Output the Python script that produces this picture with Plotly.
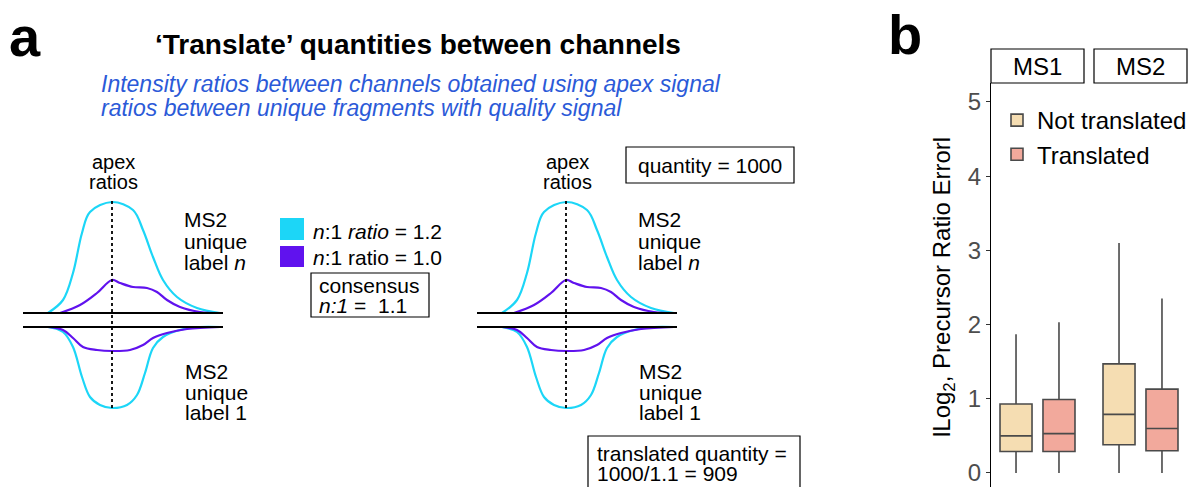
import plotly.graph_objects as go

FONT = "Liberation Sans, Arial, sans-serif"

# --- panel a: peak profiles (px from apex, px above/below baseline)
top_cyan_dx = [-64, -49, -39, -30, -22, 0, 21, 31, 41, 51, 65, 85, 108]
top_cyan_h = [0, 13, 40, 80, 101, 111, 103, 83, 56, 33, 16, 5, 0]
top_purple_dx = [-52, -32, -15, 0, 8, 21, 35, 45, 55, 68, 88, 108]
top_purple_h = [0, 8, 20, 33, 30, 26, 25, 21, 13, 6, 1, 0]
bot_cyan_dx = [-64, -49, -39, -30, -22, -12, 0, 15, 25, 33, 41, 51, 68, 88, 108]
bot_cyan_h = [0, 5, 20, 50, 70, 78, 81, 78, 68, 46, 21, 10, 3, 0, 0]
bot_purple_dx = [-64, -49, -39, -29, -15, 0, 18, 31, 41, 55, 75, 108]
bot_purple_h = [0, 3, 11, 20, 23, 24, 23, 18, 11, 6, 2, 0]

# --- panel b: box plot summaries
facets = ["MS1", "MS2"]
nt_q1 = [0.29, 0.38]
nt_med = [0.50, 0.79]
nt_q3 = [0.93, 1.47]
nt_lo = [0.0, 0.0]
nt_hi = [1.87, 3.10]
tr_q1 = [0.29, 0.30]
tr_med = [0.53, 0.60]
tr_q3 = [0.99, 1.13]
tr_lo = [0.0, 0.0]
tr_hi = [2.03, 2.35]
y_ticks = [0, 1, 2, 3, 4, 5]

CYAN = "#1CD6F7"
PURPLE = "#6012EE"
BLUE_TXT = "#2B5AD8"
NT_COL = "#F5DDB2"
TR_COL = "#F2A99C"

# page body keeps an 8px margin, so the figure is drawn 8px smaller and positions are given in window pixels
OFF = 8
W, H = 1204 - OFF, 487 - OFF


def px(x):
    return (x - OFF) / W


def py(y):
    return 1 - (y - OFF) / H


fig = go.Figure()


def peak(cx, base, dx, h, color, down=False):
    xs = [cx + d for d in dx]
    ys = [base + v if down else base - v for v in h]
    fig.add_trace(go.Scatter(x=xs, y=ys, mode="lines", line=dict(color=color, width=2.2, shape="spline", smoothing=1.0),
                             xaxis="x", yaxis="y", showlegend=False, hoverinfo="skip"))


def label(x, y, text, size=21, anchor="left", color="black"):
    fig.add_annotation(x=x, y=y, xref="x", yref="y", text=text, showarrow=False, xanchor=anchor, yanchor="middle",
                       font=dict(size=size, color=color, family=FONT))


def schematic(cx):
    top_base, bot_base = 313, 327
    for yb in (top_base, bot_base):
        fig.add_shape(type="line", x0=cx - 89, x1=cx + 111, y0=yb, y1=yb, xref="x", yref="y",
                      line=dict(color="black", width=2.2))
    peak(cx, top_base, top_cyan_dx, top_cyan_h, CYAN)
    peak(cx, top_base, top_purple_dx, top_purple_h, PURPLE)
    peak(cx, bot_base, bot_cyan_dx, bot_cyan_h, CYAN, down=True)
    peak(cx, bot_base, bot_purple_dx, bot_purple_h, PURPLE, down=True)
    fig.add_shape(type="line", x0=cx, x1=cx, y0=201, y1=408, xref="x", yref="y",
                  line=dict(color="black", width=1.8, dash="dot"))
    label(cx + 1, 162, "apex", size=20, anchor="center")
    label(cx + 1, 182, "ratios", size=20, anchor="center")
    for yy, t in zip([219, 241, 262], ["MS2", "unique", "label <i>n</i>"]):
        label(cx + 70, yy, t)
    for yy, t in zip([371, 392, 412], ["MS2", "unique", "label 1"]):
        label(cx + 71, yy, t)


schematic(112)
schematic(566)

# legend squares and text (panel a)
fig.add_shape(type="rect", x0=280, x1=304, y0=218, y1=240, xref="x", yref="y", fillcolor=CYAN, line=dict(width=0))
fig.add_shape(type="rect", x0=280, x1=304, y0=246, y1=267, xref="x", yref="y", fillcolor=PURPLE, line=dict(width=0))
label(311, 231, "<i>n</i>:1 <i>ratio</i> = 1.2")
label(311, 257, "<i>n</i>:1 ratio = 1.0")
fig.add_shape(type="rect", x0=311, x1=429, y0=273, y1=317, xref="x", yref="y", line=dict(color="black", width=1.2))
label(317, 285, "consensus")
label(317, 305, "<i>n:1</i> =\u00a0 1.1")
fig.add_shape(type="rect", x0=626, x1=794, y0=147, y1=183, xref="x", yref="y", line=dict(color="black", width=1.2))
label(710, 165, "quantity = 1000", anchor="center")
fig.add_shape(type="rect", x0=588, x1=800, y0=436, y1=500, xref="x", yref="y", line=dict(color="black", width=1.2))
label(595, 453, "translated quantity =")
label(595, 473, "1000/1.1 = 909")

# titles
label(25, 36, "<b>a</b>", size=56, anchor="center")
label(418, 44, "<b>‘Translate’ quantities between channels</b>", size=28, anchor="center")
label(99, 84, "<i>Intensity ratios between channels obtained using apex signal</i>", size=23, color=BLUE_TXT)
label(99, 108, "<i>ratios between unique fragments with quality signal</i>", size=23, color=BLUE_TXT)
fig.add_annotation(x=px(905), y=py(34), xref="paper", yref="paper", text="<b>b</b>", showarrow=False,
                   xanchor="center", yanchor="middle", font=dict(size=56, color="black", family=FONT))

# --- panel b boxes
box_line = dict(color="#4a4a4a", width=1.6)
for i, (fac, xa) in enumerate(zip(facets, ["x2", "x3"])):
    fig.add_trace(go.Box(x=[fac], q1=[nt_q1[i]], median=[nt_med[i]], q3=[nt_q3[i]], lowerfence=[nt_lo[i]],
                         upperfence=[nt_hi[i]], name="Not translated", legendgroup="nt", showlegend=(i == 0),
                         fillcolor=NT_COL, line=box_line, whiskerwidth=0, boxpoints=False, xaxis=xa, yaxis="y2",
                         offsetgroup="nt"))
    fig.add_trace(go.Box(x=[fac], q1=[tr_q1[i]], median=[tr_med[i]], q3=[tr_q3[i]], lowerfence=[tr_lo[i]],
                         upperfence=[tr_hi[i]], name="Translated", legendgroup="tr", showlegend=(i == 0),
                         fillcolor=TR_COL, line=box_line, whiskerwidth=0, boxpoints=False, xaxis=xa, yaxis="y2",
                         offsetgroup="tr"))

strip_top, strip_bot = 49, 83
for fac, xa in zip(facets, ["x2", "x3"]):
    fig.add_shape(type="rect", xref=f"{xa} domain", yref="paper", x0=0, x1=1, y0=py(strip_bot), y1=py(strip_top),
                  line=dict(color="black", width=1.2), fillcolor="white")
    fig.add_annotation(xref=f"{xa} domain", yref="paper", x=0.5, y=py(66), text=fac, showarrow=False,
                       xanchor="center", yanchor="middle", font=dict(size=24, color="black", family=FONT))

fig.add_annotation(xref="paper", yref="paper", x=px(943), y=py(287), text="lLog<sub>2</sub>, Precursor Ratio Errorl",
                   textangle=-90, showarrow=False, xanchor="center", yanchor="middle",
                   font=dict(size=24, color="black", family=FONT))

cat_axis = dict(type="category", range=[-0.5, 0.5], showline=False, showticklabels=False, ticks="",
                showgrid=False, zeroline=False, anchor="y2")

fig.update_layout(
    width=W, height=H,
    margin=dict(l=0, r=0, t=0, b=0),
    paper_bgcolor="white", plot_bgcolor="white",
    font=dict(family=FONT),
    boxmode="group", boxgap=0.076, boxgroupgap=0.255,
    xaxis=dict(domain=[0, px(888)], range=[OFF, 888], visible=False),
    yaxis=dict(domain=[0, 1], range=[487, OFF], visible=False),
    xaxis2=dict(domain=[px(991), px(1084)], **cat_axis),
    xaxis3=dict(domain=[px(1094), px(1187)], **cat_axis),
    yaxis2=dict(domain=[0, py(strip_bot)], range=[-0.189, 5.256], anchor="x2", tickvals=y_ticks,
                showline=True, linecolor="black", linewidth=1.2, ticks="outside", ticklen=4, tickcolor="#333333",
                tickfont=dict(size=24, color="#4d4d4d", family=FONT), showgrid=False, zeroline=False),
    legend=dict(x=px(997), y=py(98), xanchor="left", yanchor="top", bgcolor="rgba(0,0,0,0)",
                font=dict(size=24, color="black", family=FONT), tracegroupgap=0, itemclick=False),
    showlegend=True,
)

fig.write_html("out.html")
